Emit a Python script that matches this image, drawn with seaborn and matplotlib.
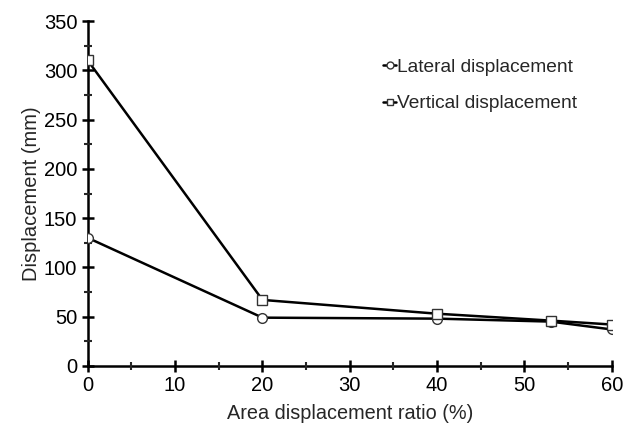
import pandas as pd
import matplotlib
matplotlib.use('Agg')
import matplotlib.pyplot as plt
import seaborn as sns
from matplotlib.ticker import MultipleLocator

# --- data ---
ratio = [0, 20, 40, 53, 60]
lateral = [130, 49, 48, 45, 37]
vertical = [310, 67, 53, 46, 42]

df = pd.DataFrame({
    'ratio': ratio * 2,
    'disp': lateral + vertical,
    'kind': ['Lateral displacement'] * 5 + ['Vertical displacement'] * 5,
})

sns.set_theme(style='white')
plt.rcParams['font.family'] = ['Liberation Sans', 'DejaVu Sans']

fig = plt.figure(figsize=(6.36, 4.3), dpi=100)
ax = fig.add_axes([0.138, 0.149, 0.824, 0.802])

sns.lineplot(data=df, x='ratio', y='disp', hue='kind', style='kind',
             palette=['black', 'black'], markers=['o', 's'], dashes=False,
             markersize=7, markerfacecolor='white', markeredgecolor='#333333',
             markeredgewidth=1, linewidth=1.8, ax=ax)

ax.set_xlim(0, 60)
ax.set_ylim(0, 350)
ax.xaxis.set_major_locator(MultipleLocator(10))
ax.xaxis.set_minor_locator(MultipleLocator(5))
ax.yaxis.set_major_locator(MultipleLocator(50))
ax.yaxis.set_minor_locator(MultipleLocator(25))
ax.tick_params(which='major', direction='inout', length=9, width=1.8,
               labelsize=14.5, colors='black', pad=3)
ax.tick_params(which='minor', direction='inout', length=6, width=1.5)
ax.tick_params(bottom=True, left=True, which='both')

for s in ['top', 'right']:
    ax.spines[s].set_visible(False)
for s in ['left', 'bottom']:
    ax.spines[s].set_linewidth(1.8)
    ax.spines[s].set_color('black')
    ax.spines[s].set_zorder(0)

ax.set_xlabel('Area displacement ratio (%)', fontsize=14.3, labelpad=6)
ax.set_ylabel('Displacement (mm)', fontsize=14.5, labelpad=2)

leg = ax.legend(frameon=False, fontsize=13.8, handlelength=0.65, handletextpad=0.08,
                labelspacing=1.0, borderpad=0, loc='upper left',
                bbox_to_anchor=(0.546, 0.92))
for h in leg.legend_handles:
    h.set_markersize(5)

plt.savefig('out.png', dpi=100)
